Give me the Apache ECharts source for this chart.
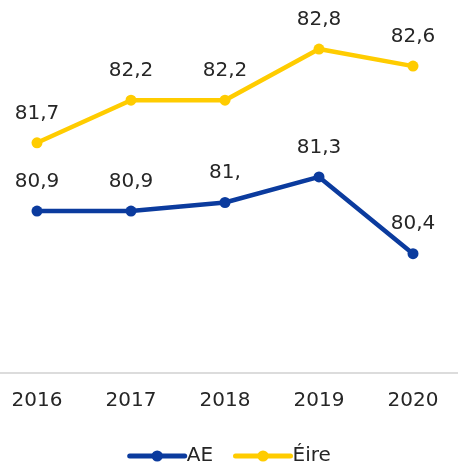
<!DOCTYPE html>
<html lang="en">
<head>
<meta charset="UTF-8">
<title>AE vs Éire</title>
<script src="https://cdn.jsdelivr.net/npm/echarts@6/dist/echarts.min.js"></script>
<style>
  html, body { margin: 0; padding: 0; background: #fff; }
  #cc { width: 458px; height: 465px; }
</style>
</head>
<body>
<div id="cc"></div>
<script>
var years = ['2016', '2017', '2018', '2019', '2020'];
var aeValues = [80.9, 80.9, 81.0, 81.3, 80.4];
var eireValues = [81.7, 82.2, 82.2, 82.8, 82.6];

// labels use a decimal comma; whole numbers keep a trailing comma like the source
function fmt(p) {
    var s = String(p.value).replace('.', ',');
    if (s.indexOf(',') < 0) s += ',';
    return s;
}

function lineSeries(name, data, color) {
    return {
        name: name,
        type: 'line',
        data: data,
        symbol: 'circle',
        symbolSize: 11,
        lineStyle: { width: 4.5, color: color },
        itemStyle: { color: color },
        label: {
            show: true,
            position: 'top',
            distance: 14,
            formatter: fmt,
            color: '#262626',
            fontSize: 20,
            fontFamily: 'DejaVu Sans'
        }
    };
}

var chart = echarts.init(document.getElementById('cc'));
chart.setOption({
    animation: false,
    textStyle: { fontFamily: 'DejaVu Sans' },
    grid: { left: -10, right: -2, top: 32, bottom: 92, outerBoundsMode: 'none', containLabel: false },
    legend: {
        bottom: -6,
        left: 'center',
        itemWidth: 55,
        itemHeight: 14,
        itemGap: 20,
        lineStyle: { width: 5, cap: 'round' },
        textStyle: { fontSize: 20, color: '#262626', fontFamily: 'DejaVu Sans', padding: [0, 0, 0, -3] },
        data: ['AE', 'Éire']
    },
    xAxis: {
        type: 'category',
        data: years,
        boundaryGap: true,
        axisLine: { lineStyle: { color: '#d0d0d0', width: 1.5 } },
        axisTick: { show: false },
        axisLabel: { color: '#262626', fontSize: 20, margin: 18, fontFamily: 'DejaVu Sans' }
    },
    yAxis: {
        type: 'value',
        min: 79,
        max: 83,
        show: false,
        splitLine: { show: false }
    },
    series: [
        lineSeries('AE', aeValues, '#0b3b9e'),
        lineSeries('Éire', eireValues, '#ffcc00')
    ]
});
</script>
</body>
</html>
